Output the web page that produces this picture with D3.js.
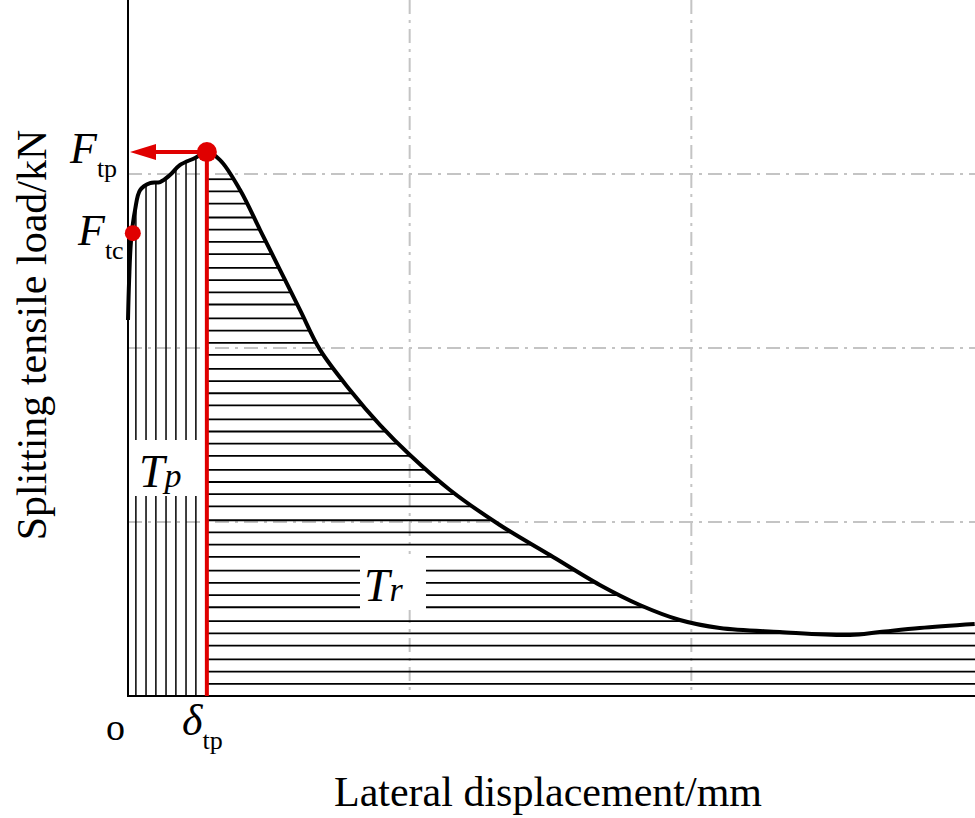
<!DOCTYPE html><html><head><meta charset="utf-8"><script src="https://cdn.jsdelivr.net/npm/d3@7"></script>
<style>body{margin:0;background:#fff}text{font-family:"Liberation Serif","Times New Roman",serif}</style></head><body>
<svg id="c" width="975" height="818"></svg>
<script>
const dispX=[0,0.004,0.011,0.025,0.043,0.078,0.114,0.149,0.185,0.238,0.28,0.327,0.398,0.469,0.54,0.611,0.682,0.788,0.895,1.001,1.143,1.32,1.498,1.675,1.817,1.959,2.101,2.314,2.563,2.669,2.811,3.006];
const loadY=[2.161,2.391,2.621,2.793,2.908,2.948,2.954,2.994,3.052,3.092,3.126,3.080,2.908,2.678,2.448,2.218,1.989,1.759,1.557,1.385,1.184,0.983,0.810,0.638,0.523,0.437,0.391,0.368,0.351,0.368,0.391,0.414];
const xGrid=[1,2], yGrid=[1,2,3];
const peakX=0.28, peakY=3.126, tcX=0.01, tcY=2.66;
const vHatch=[0.028,0.064,0.099,0.135,0.17,0.206,0.241];
const hHatch=[0.07,0.14,0.21,0.29,0.36,0.43,0.51,0.58,0.65,0.72,0.8,0.87,0.94,1.01,1.09,1.16,1.23,1.3,1.38,1.45,1.52,1.59,1.67,1.74,1.81,1.88,1.96,2.03,2.1,2.17,2.25,2.32,2.39,2.46,2.54,2.61,2.68,2.75,2.83,2.9,2.97];
const svg=d3.select("#c");
const x=d3.scaleLinear().domain([0,3]).range([128,973]);
const y=d3.scaleLinear().domain([0,4]).range([696,0]);
const g=svg.append("g");
xGrid.forEach(v=>g.append("line").attr("x1",x(v)).attr("x2",x(v)).attr("y1",0).attr("y2",696).attr("stroke","#c4c4c4").attr("stroke-width",2).attr("stroke-dasharray","14,6,3,6"));
yGrid.forEach(v=>g.append("line").attr("x1",128).attr("x2",975).attr("y1",y(v)).attr("y2",y(v)).attr("stroke","#c4c4c4").attr("stroke-width",2).attr("stroke-dasharray","14,6,3,6"));
const pts=dispX.map((d,i)=>[d,loadY[i]]);
function yAt(xv){for(let i=1;i<pts.length;i++){if(xv<=pts[i][0]){const a=pts[i-1],b=pts[i];return a[1]+(b[1]-a[1])*(xv-a[0])/(b[0]-a[0]);}}return pts[pts.length-1][1];}
function xAtDesc(yv){const pk=pts.findIndex(p=>p[0]===peakX);for(let i=pk+1;i<pts.length;i++){const a=pts[i-1],b=pts[i];if(b[1]<=yv&&a[1]>=yv)return a[0]+(b[0]-a[0])*(a[1]-yv)/(a[1]-b[1]);}return 3.02;}
vHatch.forEach(v=>g.append("line").attr("x1",x(v)).attr("x2",x(v)).attr("y1",696).attr("y2",y(yAt(v))).attr("stroke","#000").attr("stroke-width",1.5));
hHatch.forEach(v=>{let xe=v<yAt(3.0)?3.02:xAtDesc(v);g.append("line").attr("x1",x(peakX)).attr("x2",x(xe)).attr("y1",y(v)).attr("y2",y(v)).attr("stroke","#000").attr("stroke-width",1.8);});
g.append("path").attr("d",d3.line().x(d=>x(d[0])).y(d=>y(d[1])).curve(d3.curveCatmullRom)(pts)).attr("fill","none").attr("stroke","#000").attr("stroke-width",4);
g.append("line").attr("x1",128).attr("x2",128).attr("y1",0).attr("y2",697).attr("stroke","#000").attr("stroke-width",2);
g.append("line").attr("x1",127).attr("x2",975).attr("y1",696).attr("y2",696).attr("stroke","#000").attr("stroke-width",2);
g.append("line").attr("x1",x(peakX)).attr("x2",x(peakX)).attr("y1",y(peakY)).attr("y2",696).attr("stroke","#e00000").attr("stroke-width",4);
g.append("line").attr("x1",x(peakX)).attr("x2",150).attr("y1",y(peakY)).attr("y2",y(peakY)).attr("stroke","#e00000").attr("stroke-width",4);
g.append("path").attr("d",`M130,${y(peakY)} L156,${y(peakY)-8} L156,${y(peakY)+8}Z`).attr("fill","#e00000");
g.append("circle").attr("cx",x(peakX)).attr("cy",y(peakY)).attr("r",10).attr("fill","#e00000");
g.append("circle").attr("cx",x(tcX)+2).attr("cy",y(tcY)).attr("r",8).attr("fill","#e00000");
[[131,440,67,56,"T","p",139,487],[360,554,66,56,"T","r",364,601]].forEach(b=>{g.append("rect").attr("x",b[0]).attr("y",b[1]).attr("width",b[2]).attr("height",b[3]).attr("fill","#fff");
 const t=g.append("text").attr("x",b[6]).attr("y",b[7]).attr("font-size",46).attr("font-style","italic");t.append("tspan").text(b[4]);t.append("tspan").attr("font-size",34).text(b[5]);});
function sub(xp,yp,main,s,it){const t=g.append("text").attr("x",xp).attr("y",yp).attr("font-size",44);t.append("tspan").attr("font-style",it?"italic":"normal").text(main);t.append("tspan").attr("font-size",26).attr("dy",14).text(s);}
sub(70,163,"F","tp",true);sub(78,245,"F","tc",true);sub(182,735,"δ","tp",true);
g.append("text").attr("x",106).attr("y",740).attr("font-size",38).text("o");
g.append("text").attr("x",548).attr("y",806).attr("text-anchor","middle").attr("font-size",42).text("Lateral displacement/mm");
g.append("text").attr("transform","translate(46,335) rotate(-90)").attr("text-anchor","middle").attr("font-size",42).text("Splitting tensile load/kN");
</script></body></html>
